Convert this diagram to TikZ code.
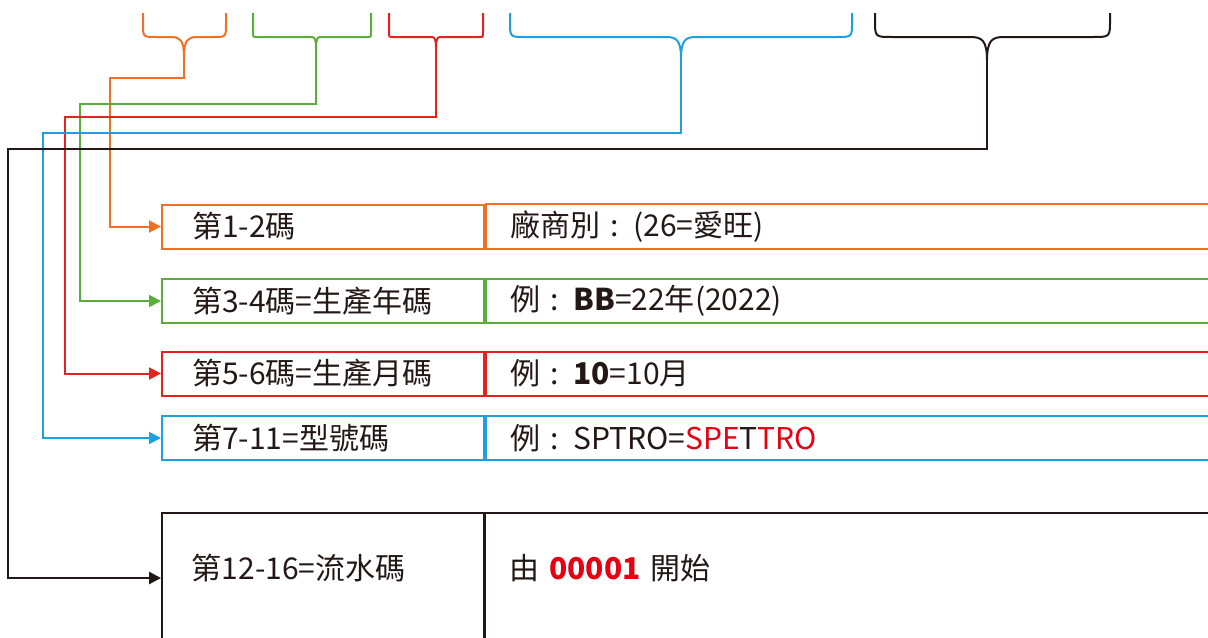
\documentclass[tikz,border=0pt]{standalone}
\usepackage{fontspec}
\setmainfont{Noto Sans CJK TC}
\usepackage{tikz}
\usetikzlibrary{arrows.meta, positioning}

\definecolor{codeorange}{HTML}{EE7125}
\definecolor{codegreen}{HTML}{5BAE3C}
\definecolor{codered}{HTML}{E5231E}
\definecolor{codeblue}{HTML}{1BA1E2}
\definecolor{codeblack}{HTML}{231815}
\definecolor{textred}{HTML}{E60012}

% brace over a group of code digits: colour, left x, tip x, right x, corner size, tip name
\newcommand{\codebrace}[6]{%
  \draw[brace line, #1] (#2,13) -- (#2,37-#5) .. controls (#2,37) .. (#2+#5,37)
    -- (#3-#5,37) .. controls (#3-0.3*#5,37) and (#3,40) .. (#3,44+#5)
    .. controls (#3,40) and (#3+0.3*#5,37) .. (#3+#5,37)
    -- (#4-#5,37) .. controls (#4,37) .. (#4,37-#5) -- (#4,13);
  \coordinate (#6) at (#3,44+#5);
}

\begin{document}
\begin{tikzpicture}[
            x=0.5pt, y=-0.5pt,
            every node/.style={font=\fontsize{15pt}{17pt}\selectfont, text=codeblack}, % text of all cells
            brace line/.style={line width=1pt},
            link/.style={line width=1pt, -{Triangle[length=6pt,width=6pt]}},
            codecell/.style={draw, line width=1pt, anchor=west, minimum height=22pt,
                inner xsep=15pt, text width=131pt, align=left},
            infocell/.style={draw, line width=1pt, minimum height=22pt,
                inner xsep=12pt, text width=360pt, align=left}
            ]
        \useasboundingbox (0,0) rectangle (1208,637);
        \clip (0,0) rectangle (1208,637);

        % braces over the code
        \codebrace{codeorange}{143}{184}{226}{13}{t12}
        \codebrace{codegreen}{253}{316}{371}{4}{t34}
        \codebrace{codered}{389}{436}{483}{4}{t56}
        \codebrace{codeblue}{510}{681}{852}{15}{t711}
        \codebrace{codeblack}{875}{987}{1110}{17}{t1216}

        % rows of the table
        \node[codecell, draw=codeorange] (c12) at (161,226.5) {第1-2碼};
        \node[infocell, draw=codeorange, right=0pt of c12] (i12) {廠商別 : (26=愛旺)};

        \node[codecell, draw=codegreen] (c34) at (161,301) {第3-4碼=生產年碼};
        \node[infocell, draw=codegreen, right=0pt of c34] (i34) {例 : \textbf{BB}=22年(2022)};

        \node[codecell, draw=codered] (c56) at (161,373.5) {第5-6碼=生產月碼};
        \node[infocell, draw=codered, right=0pt of c56] (i56) {例 : \textbf{10}=10月};

        \node[codecell, draw=codeblue] (c711) at (161,438) {第7-11=型號碼};
        \node[infocell, draw=codeblue, right=0pt of c711] (i711)
            {例 : SPTRO=\textcolor{textred}{SPE}T\textcolor{textred}{TRO}};

        \node[codecell, draw=codeblack, line width=0.8pt, minimum height=65pt] (c1216) at (161,578)
            {\raisebox{5pt}[\height][\depth]{第12-16=流水碼}};
        \node[infocell, draw=codeblack, line width=0.8pt, minimum height=65pt, right=0pt of c1216] (i1216)
            {\raisebox{5pt}[\height][\depth]{由 \textcolor{textred}{\textbf{00001}} 開始}};

        % connectors from braces to rows
        \draw[link, codeorange] (t12) |- (110,78) |- (c12.west);
        \draw[link, codegreen] (t34) |- (80,104) |- (c34.west);
        \draw[link, codered] (t56) |- (65,117) |- (c56.west);
        \draw[link, codeblue] (t711) |- (43,133) |- (c711.west);
        \draw[link, codeblack, line width=1.4pt] (t1216) |- (8,149) |- (c1216.west);

\end{tikzpicture}
\end{document}
